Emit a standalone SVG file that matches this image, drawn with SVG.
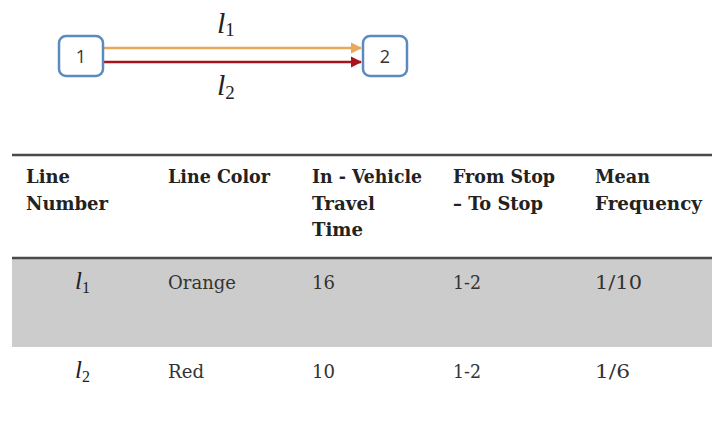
<svg xmlns="http://www.w3.org/2000/svg" width="712" height="434" viewBox="0 0 712 434">
<defs>
<style>
.node{fill:#fff;stroke:#5b8ac0;stroke-width:2.5}
.nl{font-family:"Open Sans","Liberation Sans",sans-serif;font-size:18px;fill:#333;text-anchor:middle}
.math{font-family:"Liberation Serif",serif;font-style:italic;fill:#222}
.sub{font-family:"Liberation Serif",serif;font-style:normal;fill:#222}
.hd{font-family:"DejaVu Serif","Liberation Serif",serif;font-weight:bold;font-size:19px;fill:#222}
.cell{font-family:"DejaVu Serif","Liberation Serif",serif;font-size:19px;fill:#333}
.rule{stroke:#4a4a4a;stroke-width:2.5}
</style>
<marker id="ao" viewBox="0 0 10 10" refX="9" refY="5" markerWidth="4.5" markerHeight="4.5" orient="auto" markerUnits="strokeWidth"><path d="M0,0L10,5L0,10z" fill="#e7a85a"/></marker>
<marker id="ar" viewBox="0 0 10 10" refX="9" refY="5" markerWidth="4.5" markerHeight="4.5" orient="auto" markerUnits="strokeWidth"><path d="M0,0L10,5L0,10z" fill="#a8141e"/></marker>
</defs>
<rect width="712" height="434" fill="#fff"/>
<g id="connectors">
<line x1="104" y1="48" x2="361" y2="48" stroke="#e7a85a" stroke-width="2.5" marker-end="url(#ao)"/>
<line x1="104" y1="62" x2="361" y2="62" stroke="#a8141e" stroke-width="2.5" marker-end="url(#ar)"/>
<text class="math" x="217" y="33" font-size="30">l<tspan class="sub" font-size="19" dy="3">1</tspan></text>
<text class="math" x="217" y="95" font-size="30">l<tspan class="sub" font-size="19" dy="4">2</tspan></text>
</g>
<g id="node1"><rect class="node" x="59" y="36" width="44" height="40" rx="7"/><text class="nl" x="81" y="63">1</text></g>
<g id="node2"><rect class="node" x="363" y="36" width="44" height="40" rx="7"/><text class="nl" x="385" y="63">2</text></g>
<g id="table">
<rect x="12" y="258" width="700" height="89" fill="#cccccc"/>
<line class="rule" x1="12" y1="155" x2="712" y2="155"/>
<line class="rule" x1="12" y1="258" x2="712" y2="258"/>
<text class="hd" x="26" y="183" textLength="44" lengthAdjust="spacingAndGlyphs">Line</text>
<text class="hd" x="26" y="210" textLength="82" lengthAdjust="spacingAndGlyphs">Number</text>
<text class="hd" x="168" y="183" textLength="102" lengthAdjust="spacingAndGlyphs">Line Color</text>
<text class="hd" x="312" y="183" textLength="110" lengthAdjust="spacingAndGlyphs">In - Vehicle</text>
<text class="hd" x="312" y="210" textLength="63" lengthAdjust="spacingAndGlyphs">Travel</text>
<text class="hd" x="312" y="236" textLength="51" lengthAdjust="spacingAndGlyphs">Time</text>
<text class="hd" x="453" y="183" textLength="102" lengthAdjust="spacingAndGlyphs">From Stop</text>
<text class="hd" x="453" y="210" textLength="90" lengthAdjust="spacingAndGlyphs">– To Stop</text>
<text class="hd" x="595" y="183" textLength="55" lengthAdjust="spacingAndGlyphs">Mean</text>
<text class="hd" x="595" y="210" textLength="107" lengthAdjust="spacingAndGlyphs">Frequency</text>
<text class="math" x="75" y="289" font-size="25">l<tspan class="sub" font-size="16" dy="4">1</tspan></text>
<text class="cell" x="168" y="289" textLength="68" lengthAdjust="spacingAndGlyphs">Orange</text>
<text class="cell" x="312" y="289" textLength="23" lengthAdjust="spacingAndGlyphs">16</text>
<text class="cell" x="453" y="289" textLength="28" lengthAdjust="spacingAndGlyphs">1-2</text>
<text class="cell" x="595" y="289" textLength="47" lengthAdjust="spacingAndGlyphs">1/10</text>
<text class="math" x="75" y="378" font-size="25">l<tspan class="sub" font-size="16" dy="4">2</tspan></text>
<text class="cell" x="168" y="378" textLength="36" lengthAdjust="spacingAndGlyphs">Red</text>
<text class="cell" x="312" y="378" textLength="23" lengthAdjust="spacingAndGlyphs">10</text>
<text class="cell" x="453" y="378" textLength="28" lengthAdjust="spacingAndGlyphs">1-2</text>
<text class="cell" x="595" y="378" textLength="35" lengthAdjust="spacingAndGlyphs">1/6</text>
</g>
</svg>
